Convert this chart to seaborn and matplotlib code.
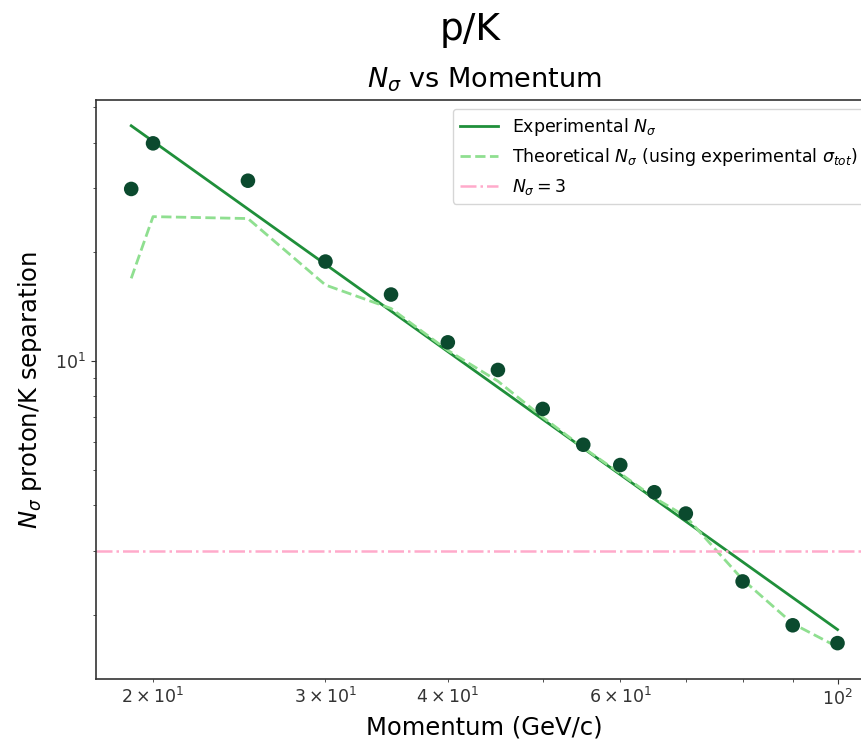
import matplotlib
matplotlib.use("Agg")
import matplotlib.pyplot as plt
import seaborn as sns
import pandas as pd

# ---- data ----
momentum = [19, 20, 25, 30, 35, 40, 45, 50, 55, 60, 65, 70, 80, 90, 100]
n_sigma_points = [29.8, 39.8, 31.4, 18.8, 15.25, 11.26, 9.45, 7.38, 5.88, 5.17, 4.35, 3.80, 2.47, 1.87, 1.67]
n_sigma_theory = [16.9, 25.0, 24.7, 16.2, 13.96, 10.7, 8.8, 7.0, 5.77, 4.9, 4.2, 3.73, 2.50, 1.89, 1.63]
fit_momentum = [19, 100]
fit_n_sigma = [44.5, 1.82]
threshold = 3

labels = {
    "fit": r"Experimental $N_\sigma$",
    "theory": r"Theoretical $N_\sigma$ (using experimental $\sigma_{tot}$)",
    "thr": r"$N_\sigma = 3$",
}

pts = pd.DataFrame({"p": momentum, "n": n_sigma_points})
theo = pd.DataFrame({"p": momentum, "n": n_sigma_theory})
fit = pd.DataFrame({"p": fit_momentum, "n": fit_n_sigma})

plt.rcParams["font.family"] = ["DejaVu Sans"]
fig = plt.figure(figsize=(8.62, 7.44), dpi=100)
ax = fig.add_axes([96 / 862, 65 / 744, (873 - 96) / 862, (679 - 100) / 744])

sns.lineplot(data=fit, x="p", y="n", ax=ax, color="#1f8f3a", lw=2.0,
             label=labels["fit"])
sns.lineplot(data=theo, x="p", y="n", ax=ax, color="#8fdf90", lw=2.0,
             linestyle="--", label=labels["theory"])
ax.axhline(threshold, color="#ffaacb", lw=1.8, linestyle="-.", label=labels["thr"])
sns.scatterplot(data=pts, x="p", y="n", ax=ax, color="#0b4a2e", s=110,
                edgecolor="none", zorder=5)

ax.set_xscale("log")
ax.set_yscale("log")
ax.set_xlim(17.49, 108.7)
ax.set_ylim(1.33, 52.4)

ax.set_xlabel("Momentum (GeV/c)", fontsize=17.5, labelpad=5)
ax.set_ylabel(r"$N_\sigma$ proton/K separation", fontsize=17.5, labelpad=8)
ax.set_title(r"$N_\sigma$ vs Momentum", fontsize=19.5, pad=9)
fig.text(470 / 862, 1 - 30 / 744, "p/K", fontsize=27, ha="center", va="center")
ax.tick_params(which="both", labelsize=12.5, colors="#333333")
for sp in ax.spines.values():
    sp.set_color("#333333")
    sp.set_linewidth(1.2)

leg = ax.legend(loc="upper right", fontsize=12.5, frameon=True, handlelength=2.2)
leg.get_frame().set_edgecolor("#cccccc")

fig.savefig("out.png", dpi=100)
